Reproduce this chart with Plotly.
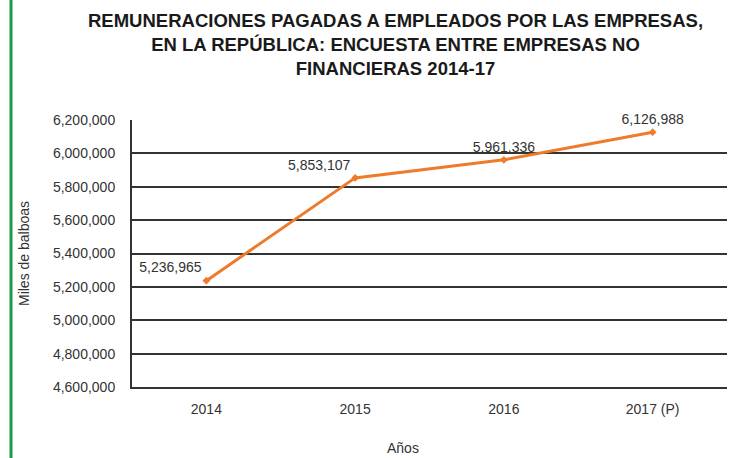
import plotly.graph_objects as go

years = ["2014", "2015", "2016", "2017 (P)"]
values = [5236965, 5853107, 5961336, 6126988]
labels = ["5,236,965", "5,853,107", "5,961,336", "6,126,988"]
label_pos = ["top left", "top left", "top center", "top center"]
y_ticks = [4600000, 4800000, 5000000, 5200000, 5400000, 5600000, 5800000, 6000000, 6200000]
title_lines = [
    "REMUNERACIONES PAGADAS A EMPLEADOS POR LAS EMPRESAS,",
    "EN LA REPÚBLICA: ENCUESTA ENTRE EMPRESAS NO",
    "FINANCIERAS 2014-17",
]

W, H = 731, 458
ml, mr, mt, mb = 132, 4, 120, 71
pw = W - ml - mr
ph = H - mt - mb
FONT = "Liberation Sans, Arial, sans-serif"
TXT = "#333333"

fig = go.Figure()
fig.add_trace(go.Scatter(
    x=years, y=values, mode="lines+markers+text",
    line=dict(color="#EE7A2A", width=3),
    marker=dict(color="#EE7A2A", size=6, symbol="diamond"),
    text=labels, textposition=label_pos,
    textfont=dict(family=FONT, size=14, color=TXT),
    cliponaxis=False, showlegend=False, hoverinfo="skip",
))

annotations = [
    dict(
        text="<br>".join(title_lines), xref="paper", yref="paper",
        x=(395 - ml) / pw, xanchor="center", y=1 + (mt - 8) / ph, yanchor="top",
        showarrow=False, align="center",
        font=dict(family=FONT, size=18.5, color="#1a1a1a", weight="bold"),
    ),
    dict(
        text="Años", xref="paper", yref="paper",
        x=(403 - ml) / pw, xanchor="center", y=-(448 - mt - ph) / ph, yanchor="middle",
        showarrow=False, font=dict(family=FONT, size=14, color=TXT),
    ),
]

fig.update_layout(
    width=W, height=H,
    margin=dict(l=ml, r=mr, t=mt, b=mb),
    paper_bgcolor="white", plot_bgcolor="white",
    font=dict(family=FONT, color=TXT),
    annotations=annotations,
    xaxis=dict(
        type="category", range=[-0.5, 3.5], automargin=False,
        showline=True, linecolor=TXT, linewidth=2,
        showgrid=False, ticks="outside", ticklen=8, tickcolor="white",
        tickfont=dict(size=14, color=TXT),
    ),
    yaxis=dict(
        range=[4600000, 6200000], tickvals=y_ticks, tickformat=",", automargin=False,
        showline=True, linecolor=TXT, linewidth=2,
        showgrid=True, gridcolor=TXT, gridwidth=2, zeroline=False,
        ticks="outside", ticklen=12, tickcolor="white",
        tickfont=dict(size=14, color=TXT),
        title=dict(text="Miles de balboas", font=dict(size=14, color=TXT), standoff=20),
    ),
    shapes=[dict(type="line", xref="paper", yref="paper",
                 x0=(11 - ml) / pw, x1=(11 - ml) / pw, y0=-mb / ph, y1=1 + mt / ph,
                 line=dict(color="#1E9A45", width=3))],
)

fig.write_html("out.html", config={"displayModeBar": False},
               post_script="document.body.style.margin='0';")
